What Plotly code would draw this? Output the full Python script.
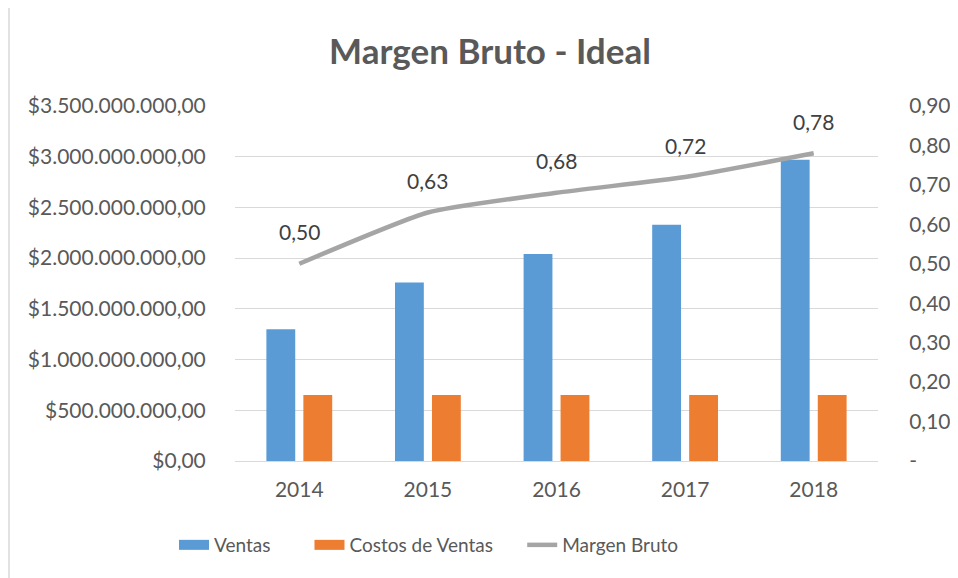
import plotly.graph_objects as go

years = ["2014", "2015", "2016", "2017", "2018"]
ventas = [1.30e9, 1.76e9, 2.04e9, 2.33e9, 2.97e9]
costos = [0.65e9, 0.65e9, 0.65e9, 0.65e9, 0.65e9]
margen = [0.50, 0.63, 0.68, 0.72, 0.78]

left_ticks = [0, 0.5e9, 1.0e9, 1.5e9, 2.0e9, 2.5e9, 3.0e9, 3.5e9]
right_ticks = [0, 0.1, 0.2, 0.3, 0.4, 0.5, 0.6, 0.7, 0.8, 0.9]
right_text = ["-"] + [f"{v:.2f}".replace(".", ",") for v in right_ticks[1:]]

FONT = "Lato"
GREY = "#595959"
BLUE, ORANGE, LGREY = "#5B9BD5", "#ED7D31", "#A5A5A5"
NB = "\u00a0"

# page has an 8px body margin: figure pixel = reference pixel - 8
OX, OY = 8, 8
W, H = 958 - OX, 578 - OY
L = 235 - OX
T = 106 - OY
R = W - (878 - OX)
B = H - (461 - OY)
pw, ph = W - L - R, H - T - B

fig = go.Figure()
fig.add_trace(go.Bar(x=years, y=ventas, name="Ventas", marker_color=BLUE, marker_line_width=0,
                     showlegend=False))
fig.add_trace(go.Bar(x=years, y=costos, name="Costos de Ventas", marker_color=ORANGE, marker_line_width=0,
                     showlegend=False))
fig.add_trace(go.Scatter(x=years, y=margen, name="Margen Bruto", mode="lines", yaxis="y2",
                         line=dict(color=LGREY, width=4.5, shape="spline", smoothing=0.5),
                         showlegend=False))
# legend entries
fig.add_trace(go.Scatter(x=[None], y=[None], name="Ventas" + NB * 7, mode="lines",
                         line=dict(color=BLUE, width=14)))
fig.add_trace(go.Scatter(x=[None], y=[None], name="Costos de Ventas" + NB * 5, mode="lines",
                         line=dict(color=ORANGE, width=14)))
fig.add_trace(go.Scatter(x=[None], y=[None], name="Margen Bruto", mode="lines",
                         line=dict(color=LGREY, width=4.5)))

for i, m in enumerate(margen):
    fig.add_annotation(x=i, y=m, xref="x", yref="y2", text=f"{m:.2f}".replace(".", ","), showarrow=False,
                       yshift=32, font=dict(family=FONT, size=21, color="#404040"))

# chart frame (left and top edges visible)
fig.add_shape(type="line", xref="paper", yref="paper",
              x0=(1 - L) / pw, x1=(1 - L) / pw, y0=-B / ph, y1=(H - T - 0.5) / ph,
              line=dict(color="#D9D9D9", width=1.5))
fig.add_shape(type="line", xref="paper", yref="paper",
              x0=(1 - L) / pw, x1=(W - L) / pw, y0=(H - T - 0.5) / ph, y1=(H - T - 0.5) / ph,
              line=dict(color="#D9D9D9", width=1.5))

fig.update_layout(
    width=W, height=H,
    margin=dict(l=L, r=R, t=T, b=B, autoexpand=False),
    paper_bgcolor="white", plot_bgcolor="white",
    separators=",.",
    font=dict(family=FONT, size=18, color=GREY),
    title=dict(text="<b>Margen Bruto - Ideal</b>", x=(490 - OX) / W, xanchor="center", y=1 - (52 - OY) / H,
               yanchor="middle", yref="container", font=dict(family=FONT, size=35, color=GREY)),
    barmode="group", bargap=0.425, bargroupgap=0.22,
    showlegend=True,
    legend=dict(orientation="h", x=(429 - 235) / pw, xanchor="center", y=(461 - 545) / ph, yanchor="middle",
                font=dict(family=FONT, size=19, color=GREY), traceorder="normal",
                itemwidth=30, tracegroupgap=0),
    xaxis=dict(type="category", range=[-0.5, 4.5], showgrid=False, showline=True, linecolor="#D9D9D9",
               linewidth=1, ticks="outside", ticklen=10, tickcolor="rgba(0,0,0,0)", automargin=False,
               tickfont=dict(family=FONT, size=21, color=GREY)),
    yaxis=dict(range=[0, 3.5e9], tickvals=left_ticks, tickformat="$,.2f",
               showgrid=True, gridcolor="#D9D9D9", gridwidth=1, zeroline=False,
               ticks="outside", ticklen=24, tickcolor="rgba(0,0,0,0)", automargin=False,
               tickfont=dict(family=FONT, size=21, color=GREY)),
    yaxis2=dict(range=[0, 0.9], overlaying="y", side="right", tickvals=right_ticks, ticktext=right_text,
                showgrid=False, zeroline=False,
                ticks="outside", ticklen=26, tickcolor="rgba(0,0,0,0)", automargin=False,
                tickfont=dict(family=FONT, size=21, color=GREY)),
)

fig.write_html("out.html")
